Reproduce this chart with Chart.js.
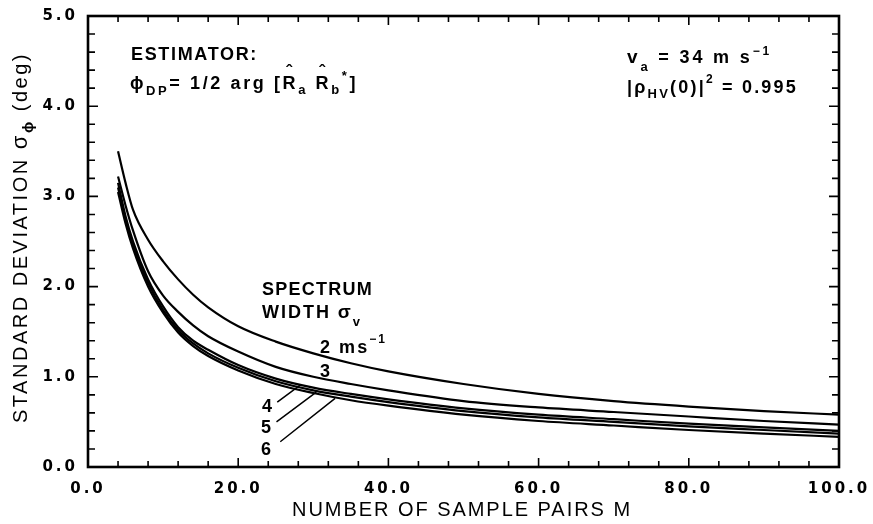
<!DOCTYPE html>
<html>
<head>
<meta charset="utf-8">
<script src="https://cdn.jsdelivr.net/npm/chart.js@4.4.1/dist/chart.umd.min.js"></script>
<style>
  html, body { margin: 0; padding: 0; background: #fff; }
  #wrap { width: 873px; height: 524px; }
</style>
</head>
<body>
<div id="wrap"><canvas id="sigmaChart" width="873" height="524"></canvas></div>
<script>
// number of sample pairs M
const sampleM = [4, 5, 6, 8, 10, 12, 14, 16, 20, 25, 30, 35, 40, 50, 60, 70, 80, 90, 100];
// standard deviation of phi_DP (deg) per spectrum width
const width2 = [3.50, 3.15, 2.85, 2.52, 2.28, 2.08, 1.91, 1.77, 1.56, 1.39, 1.26, 1.15, 1.06, 0.92, 0.81, 0.73, 0.67, 0.62, 0.58];
const width3 = [3.22, 2.90, 2.62, 2.17, 1.90, 1.72, 1.57, 1.45, 1.28, 1.11, 1.00, 0.92, 0.85, 0.73, 0.66, 0.61, 0.56, 0.51, 0.47];
const width4 = [3.15, 2.78, 2.50, 2.08, 1.78, 1.55, 1.40, 1.30, 1.13, 0.98, 0.88, 0.81, 0.75, 0.65, 0.58, 0.53, 0.48, 0.44, 0.40];
const width5 = [3.10, 2.74, 2.46, 2.04, 1.74, 1.52, 1.37, 1.26, 1.10, 0.95, 0.85, 0.78, 0.72, 0.62, 0.55, 0.50, 0.45, 0.41, 0.37];
const width6 = [3.05, 2.70, 2.42, 2.00, 1.71, 1.49, 1.34, 1.23, 1.07, 0.92, 0.82, 0.74, 0.68, 0.58, 0.51, 0.46, 0.41, 0.37, 0.335];
const seriesNames = ['2 ms-1', '3', '4', '5', '6'];
// leader lines from the "4", "5", "6" labels to their curves, [M, sigma]
const leaders = [
  [[25.2, 0.72], [28.3, 0.91]],
  [[25.1, 0.50], [30.4, 0.83]],
  [[25.6, 0.28], [32.9, 0.76]]
];

const B = s => 'bold ' + s + 'px "Liberation Sans", Arial, sans-serif';
const R = s => s + 'px "Liberation Sans", Arial, sans-serif';

function pts(vals) {
  return sampleM.map((m, i) => ({ x: m, y: vals[i] }));
}

// draw a row of text runs, spread to a given width
function drawRuns(ctx, x, y, runs, width) {
  let natural = 0, chars = 0;
  for (const r of runs) {
    if (r.over) continue;
    ctx.font = r.f;
    natural += ctx.measureText(r.t).width;
    chars += [...r.t].length;
  }
  const ls = width ? (width - natural) / Math.max(chars, 1) : 0;
  let cx = x, prevX = x, prevW = 0;
  for (const r of runs) {
    ctx.font = r.f;
    if (r.over) {
      ctx.letterSpacing = '0px';
      const w = ctx.measureText(r.t).width;
      ctx.fillText(r.t, prevX + (prevW - w) / 2, y + (r.dy || 0));
      continue;
    }
    ctx.letterSpacing = ls + 'px';
    const w = ctx.measureText(r.t).width;
    ctx.fillText(r.t, cx, y + (r.dy || 0));
    prevX = cx; prevW = w - ls;
    cx += w;
  }
  ctx.letterSpacing = '0px';
}

const framePlugin = {
  id: 'framePlugin',
  beforeDraw(chart) {
    chart.ctx.letterSpacing = '3px';
  },
  afterDraw(chart) {
    const { ctx, chartArea: a, scales: { x, y } } = chart;
    ctx.save();
    ctx.letterSpacing = '0px';
    ctx.strokeStyle = '#000';
    ctx.fillStyle = '#000';

    // inward ticks on all four sides
    ctx.lineWidth = 1.6;
    ctx.beginPath();
    for (let v = 0; v <= 100; v += 4) {
      const px = x.getPixelForValue(v);
      const len = v % 20 === 0 ? 9 : 6;
      ctx.moveTo(px, a.bottom); ctx.lineTo(px, a.bottom - len);
      ctx.moveTo(px, a.top); ctx.lineTo(px, a.top + len);
    }
    for (let i = 0; i <= 25; i++) {
      const py = y.getPixelForValue(i / 5);
      const len = i % 5 === 0 ? 10 : 7;
      ctx.moveTo(a.left, py); ctx.lineTo(a.left + len, py);
      ctx.moveTo(a.right, py); ctx.lineTo(a.right - len, py);
    }
    ctx.stroke();

    ctx.lineWidth = 2.6;
    ctx.strokeRect(a.left, a.top, a.right - a.left, a.bottom - a.top);

    // leader lines
    ctx.lineWidth = 1.5;
    ctx.beginPath();
    for (const [p0, p1] of leaders) {
      ctx.moveTo(x.getPixelForValue(p0[0]), y.getPixelForValue(p0[1]));
      ctx.lineTo(x.getPixelForValue(p1[0]), y.getPixelForValue(p1[1]));
    }
    ctx.stroke();

    ctx.textBaseline = 'alphabetic';
    ctx.textAlign = 'left';

    // y axis title
    ctx.save();
    ctx.translate(27, 423);
    ctx.rotate(-Math.PI / 2);
    drawRuns(ctx, 0, 0, [
      { t: 'STANDARD DEVIATION ', f: R(20) },
      { t: 'σ', f: R(22) },
      { t: 'ϕ', f: B(15), dy: 6 },
      { t: ' (deg)', f: R(20) }
    ], 371);
    ctx.restore();

    // x axis title
    drawRuns(ctx, 292, 516, [{ t: 'NUMBER OF SAMPLE PAIRS M', f: R(20) }], 340);

    // estimator block
    drawRuns(ctx, 131, 60, [{ t: 'ESTIMATOR:', f: B(18) }], 127);
    drawRuns(ctx, 130, 89, [
      { t: 'ϕ', f: B(18) },
      { t: 'DP', f: B(13), dy: 6 },
      { t: '= 1/2 arg [', f: B(18) },
      { t: 'R', f: B(18) },
      { t: 'ˆ', f: B(18), dy: -11, over: true },
      { t: 'a', f: B(13), dy: 5 },
      { t: ' ', f: B(18) },
      { t: 'R', f: B(18) },
      { t: 'ˆ', f: B(18), dy: -11, over: true },
      { t: 'b', f: B(13), dy: 5 },
      { t: '*', f: B(13), dy: -9 },
      { t: ']', f: B(18) }
    ], 228);

    // parameters block
    drawRuns(ctx, 627, 63, [
      { t: 'v', f: B(19) },
      { t: 'a', f: B(13), dy: 8 },
      { t: ' = 34 m s', f: B(18) },
      { t: '−1', f: B(12), dy: -8 }
    ], 145);
    drawRuns(ctx, 627, 93, [
      { t: '|ρ', f: B(18) },
      { t: 'HV', f: B(13), dy: 5 },
      { t: '(0)|', f: B(18) },
      { t: '2', f: B(12), dy: -10 },
      { t: ' = 0.995', f: B(18) }
    ], 171);

    // spectrum width labels
    drawRuns(ctx, 262, 295, [{ t: 'SPECTRUM', f: B(18) }], 111);
    drawRuns(ctx, 262, 318, [
      { t: 'WIDTH ', f: B(18) },
      { t: 'σ', f: B(19) },
      { t: 'v', f: B(13), dy: 8 }
    ], 100);
    drawRuns(ctx, 320, 353, [
      { t: '2 ms', f: B(18) },
      { t: '−1', f: B(12), dy: -10 }
    ], 67);
    ctx.font = B(18);
    ctx.fillText('3', 320, 377);
    ctx.fillText('4', 262, 412);
    ctx.fillText('5', 261, 433);
    ctx.fillText('6', 261, 455);
    ctx.restore();
  }
};

const line = (label, vals) => ({
  label: label,
  data: pts(vals),
  borderColor: '#000',
  backgroundColor: '#000',
  borderWidth: 2.2,
  pointRadius: 0,
  fill: false,
  cubicInterpolationMode: 'monotone'
});

const tickFont = { family: '"DejaVu Sans", sans-serif', size: 15, weight: 'bold' };

new Chart(document.getElementById('sigmaChart'), {
  type: 'line',
  data: {
    datasets: [
      line(seriesNames[0], width2),
      line(seriesNames[1], width3),
      line(seriesNames[2], width4),
      line(seriesNames[3], width5),
      line(seriesNames[4], width6)
    ]
  },
  options: {
    responsive: false,
    animation: false,
    devicePixelRatio: 1,
    layout: { padding: { left: 0, right: 34, top: 16, bottom: 0 } },
    plugins: { legend: { display: false }, tooltip: { enabled: false } },
    scales: {
      x: {
        type: 'linear',
        min: 0,
        max: 100,
        grid: { display: false },
        border: { display: false },
        ticks: {
          stepSize: 20,
          autoSkip: false,
          maxRotation: 0,
          padding: 5,
          color: '#000',
          font: tickFont,
          callback: v => v.toFixed(1)
        },
        afterFit: s => { s.height = 57; }
      },
      y: {
        type: 'linear',
        min: 0,
        max: 5,
        grid: { display: false },
        border: { display: false },
        ticks: {
          stepSize: 1,
          padding: 2,
          color: '#000',
          font: tickFont,
          callback: v => v.toFixed(1)
        },
        afterFit: s => { s.width = 88; }
      }
    }
  },
  plugins: [framePlugin]
});
</script>
</body>
</html>
